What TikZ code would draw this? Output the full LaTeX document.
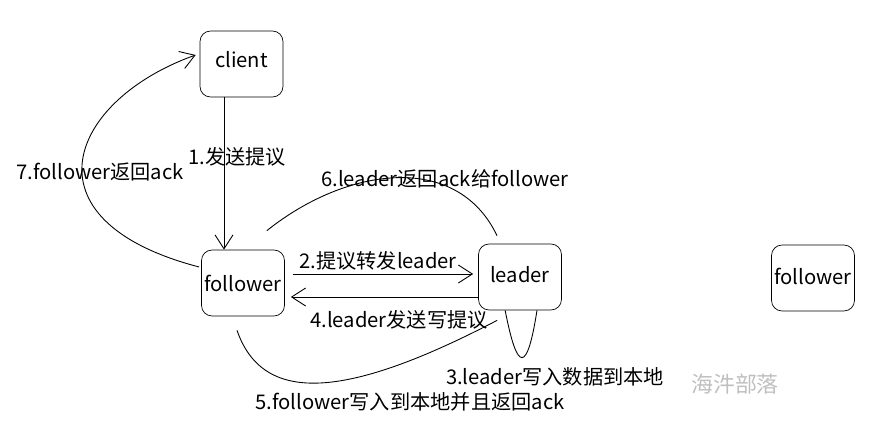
\documentclass[tikz,border=0pt]{standalone}
\usepackage{fontspec}
\setmainfont{Noto Sans CJK SC}
\usetikzlibrary{arrows.meta,calc}

\begin{document}
\begin{tikzpicture}[x=0.02cm, y=-0.02cm,
  srv/.style={
    draw, rounded corners=6pt,
    minimum width=1.66cm, minimum height=1.32cm,
    inner sep=0pt, font=\fontsize{11.5}{13}\selectfont},
  lbl/.style={font=\fontsize{11.5}{13}\selectfont, inner sep=0pt},
  arr/.style={-{Straight Barb[length=2.8mm,width=3.6mm]}, line width=0.5pt},
  link/.style={line width=0.5pt},
]
  \useasboundingbox (0,0) rectangle (882,432);

  % servers
  \node[srv] (C)  at (241.5,64) {\raisebox{5pt}{client}};
  \node[srv] (F1) at (243,283)  {follower};
  \node[srv] (L)  at (520,277)  {\raisebox{3pt}{leader}};
  \node[srv] (F2) at (813,278)  {\raisebox{2pt}{follower}};

  % straight messages
  \draw[arr] ([xshift=-0.35cm]C.south) -- ([xshift=-0.35cm]C.south |- F1.north);
  \draw[arr, shorten <=0.16cm, shorten >=0.1cm]
    ([yshift=0.18cm]F1.east) -- ([yshift=0.18cm]F1.east -| L.west);
  \draw[arr, shorten >=0.12cm]
    ([yshift=-0.4cm]L.west) -- ([yshift=-0.4cm]L.west -| F1.east);

  % curved messages
  \draw[link] (L.-114) .. controls +(12,62) and +(-10,64) .. (L.-63);
  \draw[link] ($(F1.south)+(-6,14)$) .. controls +(25,72) and +(-157,82)
    .. ($(L.south west)+(19,10)$);
  \draw[link] ($(F1.north east)+(-18,-19)$) .. controls +(80,-64) and +(-40,-84)
    .. ($(L.north)+(-23,-8)$);
  \draw[arr] ($(F1.west)+(-2,-16)$) .. controls +(-180,-47) and +(-126,45)
    .. ($(C.west)+(-4,-9)$);

  % labels
  \node[lbl] (t1) at (237,157) {1.发送提议};
  \node[lbl] (t2) at (378,261) {2.提议转发leader};
  \node[lbl] (t3) at (555,377) {3.leader写入数据到本地};
  \node[lbl] (t4) at (399,320) {4.leader发送写提议};
  \node[lbl] (t5) at (410,402) {5.follower写入到本地并且返回ack};
  \node[lbl] (t6) at (445,179) {6.leader返回ack给follower};
  \node[lbl] (t7) at (100,172) {7.follower返回ack};

  \node[font=\fontsize{12.5}{14}\selectfont, text=gray!50] (wm) at (735,384) {海汼部落};
\end{tikzpicture}
\end{document}
